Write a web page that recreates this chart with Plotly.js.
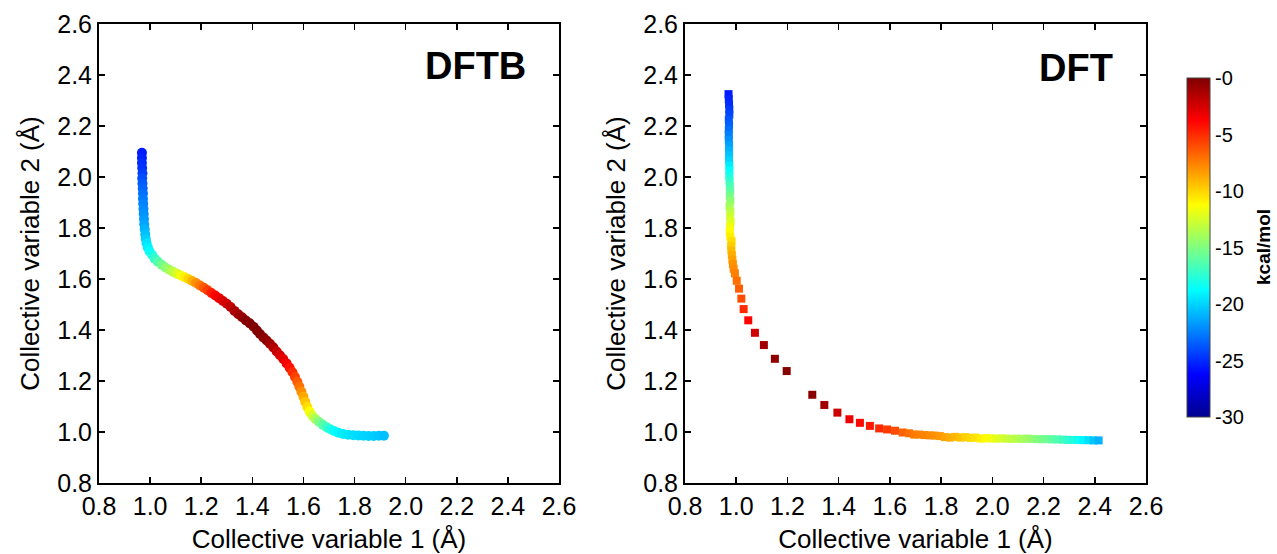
<!DOCTYPE html>
<html>
<head>
<meta charset="utf-8">
<script src="https://cdn.plot.ly/plotly-3.0.1.min.js"></script>
<style>html,body{margin:0;padding:0;background:#fff;}#chart{width:1277px;height:554px;}</style>
</head>
<body>
<div id="chart"></div>
<script>
// DFTB free-energy path: collective variables (Å) and energy (kcal/mol)
const dftbX = [0.968,0.968,0.968,0.969,0.970,0.969,0.970,0.971,0.972,0.972,0.973,0.974,0.975,0.976,0.977,0.979,0.981,0.983,0.986,0.991,0.998,1.008,1.018,1.030,1.045,1.060,1.075,1.090,1.105,1.120,1.135,1.150,1.165,1.180,1.195,1.210,1.225,1.240,1.255,1.270,1.285,1.300,1.315,1.330,1.345,1.360,1.375,1.390,1.405,1.418,1.430,1.443,1.456,1.469,1.482,1.495,1.508,1.521,1.534,1.546,1.557,1.567,1.576,1.584,1.592,1.600,1.607,1.615,1.624,1.634,1.646,1.660,1.675,1.690,1.705,1.720,1.737,1.755,1.775,1.795,1.815,1.835,1.855,1.875,1.895,1.915];
const dftbY = [2.095,2.075,2.055,2.035,2.015,1.995,1.975,1.955,1.935,1.915,1.895,1.875,1.855,1.835,1.815,1.795,1.775,1.757,1.740,1.724,1.708,1.694,1.680,1.668,1.656,1.645,1.636,1.628,1.621,1.614,1.607,1.600,1.592,1.584,1.575,1.566,1.556,1.545,1.535,1.525,1.514,1.503,1.490,1.475,1.462,1.450,1.437,1.426,1.413,1.398,1.384,1.371,1.359,1.346,1.332,1.316,1.301,1.286,1.269,1.252,1.234,1.216,1.197,1.178,1.158,1.138,1.118,1.098,1.080,1.065,1.052,1.040,1.029,1.019,1.011,1.004,0.997,0.992,0.989,0.987,0.986,0.985,0.984,0.984,0.985,0.985];
const dftbE = [-25.5,-25.3,-25,-24.8,-24.5,-24,-23.6,-23.3,-23,-22.7,-22.4,-22.2,-22,-21.7,-21.4,-21,-20.6,-20.2,-19.6,-19.2,-18.7,-18,-17.2,-16.4,-15.5,-14.7,-14,-13.2,-12.4,-11.6,-10.8,-10,-9,-8,-7.2,-6.4,-5.6,-4.6,-3.8,-3.2,-2.8,-2.4,-1.9,-1.4,-1,-0.6,-0.3,-0.1,0,0,-0.1,-0.3,-0.5,-0.9,-1.4,-2,-2.5,-3,-3.5,-4.2,-5,-5.6,-6.4,-7.1,-7.9,-8.7,-9.5,-10.3,-11.3,-12.5,-13.7,-15,-16,-17,-17.8,-18.5,-19,-19.3,-19.5,-19.7,-19.8,-20,-20.1,-20.2,-20.4,-20.6];

// DFT free-energy path
const dftX = [0.970,0.971,0.972,0.973,0.973,0.971,0.972,0.971,0.971,0.971,0.972,0.972,0.972,0.972,0.973,0.973,0.973,0.974,0.975,0.976,0.975,0.977,0.974,0.977,0.976,0.978,0.976,0.975,0.977,0.982,0.980,0.981,0.983,0.985,0.987,0.990,
  0.995,1.002,1.011,1.020,1.029,1.047,1.073,1.108,1.151,1.197,1.297,1.344,1.395,1.442,1.483,1.522,1.558,1.589,1.620,1.650,
  1.675,1.695,1.715,1.735,1.755,1.775,1.795,1.815,1.835,1.855,1.875,1.895,1.915,1.935,1.955,1.975,1.995,2.015,2.035,2.055,2.075,2.095,2.115,2.135,2.155,2.175,2.195,2.215,2.235,2.255,2.275,2.295,2.315,2.335,2.355,2.375,2.395,2.415];
const dftY = [2.325,2.305,2.285,2.265,2.245,2.225,2.205,2.185,2.165,2.145,2.125,2.105,2.085,2.065,2.045,2.025,2.005,1.985,1.965,1.945,1.925,1.905,1.885,1.865,1.845,1.825,1.805,1.785,1.765,1.748,1.730,1.712,1.694,1.676,1.658,1.640,
  1.622,1.593,1.562,1.523,1.482,1.438,1.389,1.341,1.287,1.239,1.146,1.106,1.076,1.050,1.036,1.024,1.014,1.010,1.005,0.998,
  0.995,0.990,0.990,0.988,0.987,0.986,0.984,0.980,0.978,0.981,0.978,0.980,0.977,0.978,0.974,0.976,0.975,0.974,0.975,0.974,0.973,0.974,0.973,0.974,0.973,0.972,0.972,0.972,0.971,0.971,0.970,0.969,0.969,0.969,0.968,0.968,0.967,0.967];
const dftE = [-25.5,-25.2,-25,-24.6,-24.2,-23.8,-23.4,-23,-22.5,-22,-21.5,-21,-20.5,-20,-19.3,-18.6,-18,-17.3,-16.6,-16,-15.3,-14.6,-14,-13.3,-12.7,-12.2,-11.7,-11.2,-10.8,-10.3,-9.8,-9.3,-8.9,-8.5,-8.1,-7.8,
  -7.5,-7,-6.5,-6,-5,-3.8,-2.4,-1,-0.4,-0.2,-0.3,-1,-2.2,-3.2,-4,-4.5,-5,-5.5,-6,-6.6,
  -7,-7.3,-7.5,-7.6,-7.8,-8,-8.2,-8.5,-8.8,-9.1,-9.4,-9.8,-10.1,-10.4,-10.8,-11.2,-11.6,-12,-12.4,-12.8,-13.1,-13.4,-13.8,-14.1,-14.5,-14.9,-15.3,-15.6,-16,-16.4,-16.8,-17.3,-17.8,-18.4,-19,-19.6,-20.4,-21];

const cbTickVals = [0,-5,-10,-15,-20,-25,-30];
const cbTickText = ['-0','-5','-10','-15','-20','-25','-30'];
const panelLabels = ['DFTB','DFT'];
const cbTitle = 'kcal/mol';
const xTitle = 'Collective variable 1 (Å)';
const yTitle = 'Collective variable 2 (Å)';

const W = 1277, H = 554;
const FONT = 'Liberation Sans, Arial, sans-serif';

const jet = [[0,'rgb(0,0,143)'],[0.125,'rgb(0,0,255)'],[0.375,'rgb(0,255,255)'],[0.625,'rgb(255,255,0)'],[0.875,'rgb(255,0,0)'],[1,'rgb(128,0,0)']];

const traces = [
  {x: dftbX, y: dftbY, type:'scatter', mode:'markers', xaxis:'x', yaxis:'y',
   marker:{symbol:'circle', size:10, color: dftbE, coloraxis:'coloraxis', line:{width:0}}, hoverinfo:'x+y'},
  {x: dftX, y: dftY, type:'scatter', mode:'markers', xaxis:'x2', yaxis:'y2',
   marker:{symbol:'square', size:8, color: dftE, coloraxis:'coloraxis', line:{width:0}}, hoverinfo:'x+y'}
];

function xax(domain, anchor){
  return {domain: domain, anchor: anchor, range:[0.8,2.6], dtick:0.2, tick0:0.8, tickformat:'.1f',
    ticks:'inside', ticklen:6, tickwidth:1.5, tickcolor:'#000', mirror:'ticks', showline:true, linewidth:2, linecolor:'#000',
    showgrid:false, zeroline:false, automargin:false, tickfont:{size:25, color:'#000'},
    title:{text:xTitle, font:{size:26, color:'#000'}, standoff:13}};
}
function yax(anchor){
  return {domain:[1-483/H, 1-24/H], anchor: anchor, range:[0.8,2.6], dtick:0.2, tick0:0.8, tickformat:'.1f',
    ticks:'inside', ticklen:6, tickwidth:1.5, tickcolor:'#000', mirror:'ticks', showline:true, linewidth:2, linecolor:'#000',
    showgrid:false, zeroline:false, automargin:false, tickfont:{size:25, color:'#000'},
    title:{text:yTitle, font:{size:26, color:'#000'}, standoff:10}};
}

const layout = {
  width: W, height: H,
  margin:{l:0, r:0, t:0, b:0},
  paper_bgcolor:'#fff', plot_bgcolor:'#fff',
  font:{family: FONT, color:'#000'},
  showlegend:false,
  xaxis: xax([99/W, 559/W], 'y'),
  yaxis: yax('x'),
  xaxis2: xax([685/W, 1146/W], 'y2'),
  yaxis2: yax('x2'),
  coloraxis:{cmin:-30, cmax:0, colorscale: jet,
    colorbar:{x:1187/W, xanchor:'left', xpad:0, ypad:0, y:1-247.5/H, yanchor:'middle',
      len:339, lenmode:'pixels', thickness:23, thicknessmode:'pixels',
      outlinewidth:1, outlinecolor:'#444', ticks:'', tickvals: cbTickVals, ticktext: cbTickText,
      tickfont:{size:20, color:'#000'}}},
  annotations:[
    {text:'<b>'+panelLabels[0]+'</b>', xref:'x', yref:'y', x:2.478, y:2.435, xanchor:'right', yanchor:'middle', showarrow:false, font:{size:38, color:'#000'}},
    {text:'<b>'+panelLabels[1]+'</b>', xref:'x2', yref:'y2', x:2.479, y:2.427, xanchor:'right', yanchor:'middle', showarrow:false, font:{size:38, color:'#000'}},
    {text:'<b>'+cbTitle+'</b>', xref:'paper', yref:'paper', x:1263/W, y:1-247/H, xanchor:'center', yanchor:'middle', textangle:-90, showarrow:false, font:{size:19, color:'#000'}}
  ]
};

Plotly.newPlot('chart', traces, layout, {displayModeBar:false, staticPlot:true});
</script>
</body>
</html>
